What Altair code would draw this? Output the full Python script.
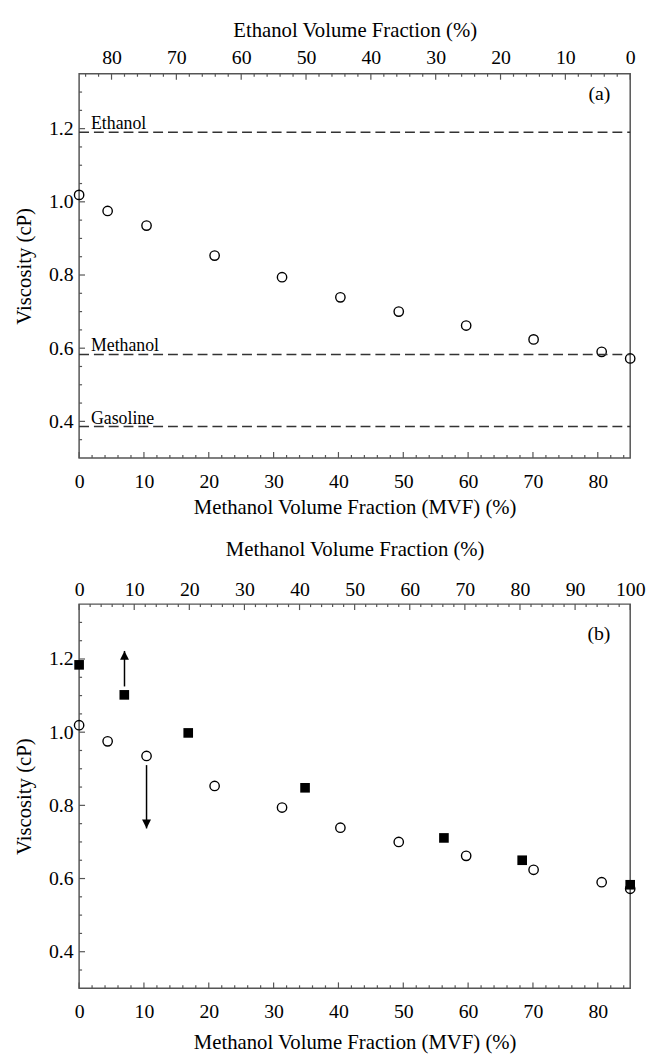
import altair as alt
import pandas as pd

# ---------------- data ----------------
# open circles: E85 + methanol blends (bottom axis, MVF %)
mvf = [0, 4.4, 10.4, 20.9, 31.3, 40.3, 49.3, 59.7, 70.1, 80.6, 85]
viscosity_blend = [1.019, 0.975, 0.935, 0.853, 0.794, 0.739, 0.700, 0.662, 0.624, 0.590, 0.572]

# filled squares (panel b): plotted against the top axis (methanol volume fraction %)
methanol_binary = [0, 8.2, 19.8, 41.0, 66.2, 80.4, 100]
viscosity_binary = [1.184, 1.102, 0.998, 0.848, 0.711, 0.650, 0.583]

# reference pure-fuel viscosities (panel a)
ref_fuels = ["Ethanol", "Methanol", "Gasoline"]
ref_viscosity = [1.19, 0.583, 0.386]

# arrows in panel b (x in MVF %)
arrow_mvf = [7.0, 10.4]
arrow_start = [1.125, 0.91]
arrow_end = [1.222, 0.737]
arrow_dir = ["up", "down"]

panel_tags = ["(a)", "(b)"]

# tick values
mvf_major = [0, 10, 20, 30, 40, 50, 60, 70, 80]
mvf_minor = [v for v in range(2, 85, 2) if v % 10]
eth_major = [0, 10, 20, 30, 40, 50, 60, 70, 80]
eth_minor = [v for v in range(2, 85, 2) if v % 10]
meth_major = [0, 10, 20, 30, 40, 50, 60, 70, 80, 90, 100]
meth_minor = [v for v in range(2, 100, 2) if v % 10]
visc_major = [0.4, 0.6, 0.8, 1.0, 1.2]
visc_minor = [0.35, 0.45, 0.5, 0.55, 0.65, 0.7, 0.75, 0.85, 0.9, 0.95,
              1.05, 1.1, 1.15, 1.25, 1.3]

# ---------------- styling ----------------
FONT = "Liberation Serif"
FRAME = "#555555"
W, H = 558, 389
Y_LO, Y_HI = 0.3, 1.35
X_LO, X_HI = 0, 85
MAJ, MIN = 6, 3


def YS():
    return alt.Scale(domain=[Y_LO, Y_HI], nice=False, zero=False)


def XB():
    return alt.Scale(domain=[X_LO, X_HI], nice=False, zero=False)


def bottom_axis(title_pad):
    return alt.Axis(orient="bottom", values=mvf_major, format="d", ticks=False,
                    domain=False, grid=False, labelPadding=14, labelFlush=False,
                    labelOverlap=False, title="Methanol Volume Fraction (MVF) (%)",
                    titlePadding=title_pad)


def left_axis():
    return alt.Axis(orient="left", values=visc_major, format=".1f", ticks=False,
                    domain=False, grid=False, labelPadding=6, labelFlush=False,
                    labelOverlap=False, title="Viscosity (cP)", titlePadding=14)


# NOTE: the y scale is shared by all layers; only the circle layer defines the
# y axis, the other layers leave it unspecified (axis=None would disable it).
def bottom_ticks(values, length):
    return alt.Chart(pd.DataFrame({"t": values})).mark_rule(
        color=FRAME, strokeWidth=1.2, y2Offset=-length
    ).encode(
        x=alt.X("t:Q", scale=XB(), axis=None),
        y=alt.YDatum(Y_LO, scale=YS()),
        y2=alt.Y2Datum(Y_LO),
    )


def left_ticks(values, length):
    return alt.Chart(pd.DataFrame({"t": values})).mark_rule(
        color=FRAME, strokeWidth=1.2, x2Offset=length
    ).encode(
        y=alt.Y("t:Q", scale=YS()),
        x=alt.XDatum(X_LO, scale=XB(), axis=None),
        x2=alt.X2Datum(X_LO),
    )


def top_ticks(values, length, scale, axis=None):
    return alt.Chart(pd.DataFrame({"t": values})).mark_rule(
        color=FRAME, strokeWidth=1.2, y2Offset=length
    ).encode(
        x=alt.X("t:Q", scale=scale, axis=axis),
        y=alt.YDatum(Y_HI, scale=YS()),
        y2=alt.Y2Datum(Y_HI),
    )


def tag_layer(tag, dy):
    return alt.Chart(pd.DataFrame({"tag": [tag]})).mark_text(
        align="right", baseline="middle", dx=-20, dy=dy, font=FONT,
        fontSize=20, color="black"
    ).encode(
        x=alt.XDatum(X_HI, scale=XB(), axis=None),
        y=alt.YDatum(Y_HI, scale=YS()),
        text="tag:N",
    )


def circles(title_pad):
    df = pd.DataFrame({"mvf": mvf, "visc": viscosity_blend})
    return alt.Chart(df).mark_point(
        shape="circle", filled=False, size=90, strokeWidth=1.4,
        color="black", opacity=1
    ).encode(
        x=alt.X("mvf:Q", scale=XB(), axis=bottom_axis(title_pad)),
        y=alt.Y("visc:Q", scale=YS(), axis=left_axis()),
    )


# ---------------- panel (a) ----------------
ref_df = pd.DataFrame({"name": ref_fuels, "v": ref_viscosity})
ref_lines = alt.Chart(ref_df).mark_rule(
    color="#333333", strokeWidth=1.5, strokeDash=[10, 5]
).encode(
    x=alt.XDatum(X_LO, scale=XB(), axis=None),
    x2=alt.X2Datum(X_HI),
    y=alt.Y("v:Q", scale=YS()),
)
ref_text = alt.Chart(ref_df).mark_text(
    align="left", baseline="alphabetic", dx=12, dy=-3, font=FONT,
    fontSize=18, color="black"
).encode(
    x=alt.XDatum(X_LO, scale=XB(), axis=None),
    y=alt.Y("v:Q", scale=YS()),
    text="name:N",
)

eth_scale = alt.Scale(domain=[X_LO, X_HI], reverse=True, nice=False, zero=False)
eth_axis = alt.Axis(orient="top", values=eth_major, format="d", ticks=False,
                    domain=False, grid=False, labelPadding=6, labelFlush=False,
                    labelOverlap=False, title="Ethanol Volume Fraction (%)",
                    titlePadding=8)

panel_a = alt.layer(
    circles(5),
    top_ticks(eth_major, MAJ, eth_scale, eth_axis),
    top_ticks(eth_minor, MIN, eth_scale),
    ref_lines, ref_text,
    bottom_ticks(mvf_major, MAJ), bottom_ticks(mvf_minor, MIN),
    left_ticks(visc_major, MAJ), left_ticks(visc_minor, MIN),
    tag_layer(panel_tags[0], 21),
).resolve_scale(x="independent").properties(width=W, height=H)

# ---------------- panel (b) ----------------
arrow_df = pd.DataFrame({"x": arrow_mvf, "y0": arrow_start, "y1": arrow_end,
                         "dir": arrow_dir})
shafts = alt.Chart(arrow_df).mark_rule(color="black", strokeWidth=1.5).encode(
    x=alt.X("x:Q", scale=XB(), axis=None),
    y=alt.Y("y0:Q", scale=YS()),
    y2="y1:Q",
)
heads = alt.Chart(arrow_df).mark_point(filled=True, size=81, color="black",
                                       opacity=1).encode(
    x=alt.X("x:Q", scale=XB(), axis=None),
    y=alt.Y("y1:Q", scale=YS()),
    shape=alt.Shape("dir:N", scale=alt.Scale(
        domain=["up", "down"], range=["M0,0L-1,2L1,2Z", "M0,0L-1,-2L1,-2Z"]),
        legend=None),
)

meth_scale = alt.Scale(domain=[0, 100], nice=False, zero=False)
meth_axis = alt.Axis(orient="top", values=meth_major, format="d", ticks=False,
                     domain=False, grid=False, labelPadding=5, labelFlush=False,
                     labelOverlap=False, title="Methanol Volume Fraction (%)",
                     titlePadding=20)
squares = alt.Chart(pd.DataFrame({"meth": methanol_binary, "visc": viscosity_binary})
                    ).mark_point(shape="square", filled=True, size=95,
                                 color="black", opacity=1).encode(
    x=alt.X("meth:Q", scale=meth_scale, axis=None),
    y=alt.Y("visc:Q", scale=YS()),
)

panel_b = alt.layer(
    circles(10),
    top_ticks(meth_major, MAJ, meth_scale, meth_axis),
    top_ticks(meth_minor, MIN, meth_scale),
    bottom_ticks(mvf_major, MAJ), bottom_ticks(mvf_minor, MIN),
    left_ticks(visc_major, MAJ), left_ticks(visc_minor, MIN),
    shafts, heads, squares,
    tag_layer(panel_tags[1], 30),
).resolve_scale(x="independent").properties(width=W, height=H)

chart = alt.vconcat(panel_a, panel_b, spacing=20).properties(
    padding={"left": 5, "top": 4, "right": 0, "bottom": 0}
).configure_axis(
    labelFont=FONT, titleFont=FONT, labelFontSize=20, titleFontSize=21,
    titleFontWeight="normal", labelColor="black", titleColor="black",
).configure_view(stroke=FRAME, strokeWidth=1.5)

chart.save("out.html", embed_options={"renderer": "svg", "actions": False})
